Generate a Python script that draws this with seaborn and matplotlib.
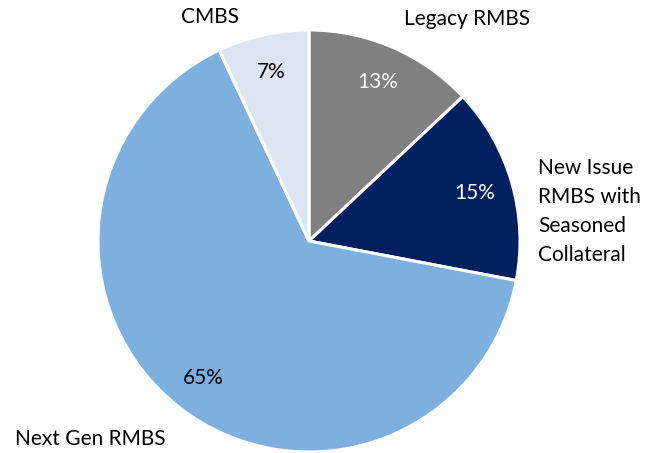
import matplotlib
matplotlib.use("Agg")
import matplotlib.pyplot as plt
import seaborn as sns

# Portfolio composition (clockwise from 12 o'clock)
categories = ['Legacy RMBS', 'New Issue\nRMBS with\nSeasoned\nCollateral', 'Next Gen RMBS', 'CMBS']
shares = [13, 15, 65, 7]
colors = ['#808080', '#002060', '#7EB0DF', '#DCE6F2']
pct_colors = ['white', 'white', 'black', 'black']

sns.set_theme(style='white')
plt.rcParams['font.family'] = ['Lato', 'DejaVu Sans']

fig = plt.figure(figsize=(6.53, 4.53), dpi=100)
# square axes in pixels, centred on the pie
r_px = 211
cx, cy = 309, 241
ax = fig.add_axes([(cx - r_px) / 653, 1 - (cy + r_px) / 453, 2 * r_px / 653, 2 * r_px / 453])

wedges, texts, autotexts = ax.pie(
    shares, colors=colors, startangle=90, counterclock=False,
    autopct='%1.0f%%', pctdistance=0.82, radius=1,
    wedgeprops=dict(edgecolor='white', linewidth=2.2),
    textprops=dict(fontsize=15))
for t, c in zip(autotexts, pct_colors):
    t.set_color(c)

ax.set_xlim(-1, 1)
ax.set_ylim(-1, 1)
ax.set_aspect('auto')

# category labels outside the pie
label_pos = [(0.75, 1.05, 'center'), (1.085, 0.14, 'left'),
             (-1.395, -0.94, 'left'), (-0.47, 1.06, 'center')]
for name, (x, y, ha) in zip(categories, label_pos):
    ax.text(x, y, name, ha=ha, va='center', fontsize=15, color='black',
            linespacing=1.55, clip_on=False)

fig.savefig('out.png', dpi=100)
